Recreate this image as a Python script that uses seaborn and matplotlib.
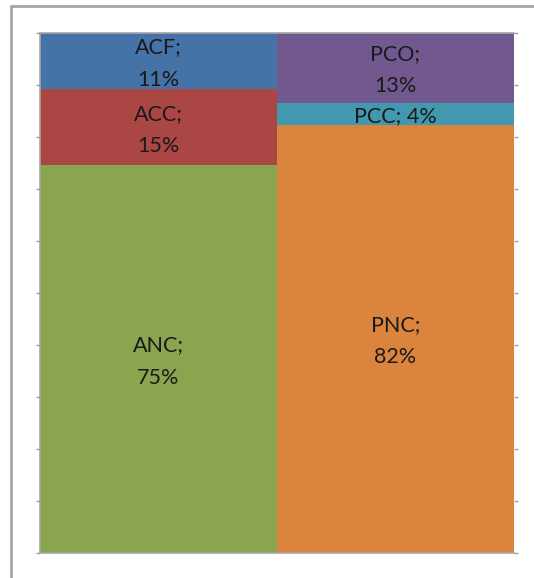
import matplotlib
matplotlib.use("Agg")
import matplotlib.pyplot as plt
import seaborn as sns
import numpy as np
import pandas as pd
from matplotlib.lines import Line2D

# ---- data ----
bars = ["A", "P"]
seg_names_A = ["ANC", "ACC", "ACF"]          # bottom -> top
seg_values_A = [74.6, 14.6, 10.8]
seg_colors_A = ["#89A54E", "#AA4643", "#4572A7"]
seg_names_P = ["PNC", "PCC", "PCO"]          # bottom -> top
seg_values_P = [82.3, 4.2, 13.4]
seg_colors_P = ["#DB843D", "#4198AF", "#71588F"]
single_line_labels = ["PCC"]

sns.set_theme(style="white")
plt.rcParams["font.family"] = ["Lato", "DejaVu Sans"]

fig = plt.figure(figsize=(5.34, 5.78), dpi=100)
ax = fig.add_axes([40 / 534, 1 - 553 / 578, 474 / 534, 520 / 578])


def shares(vals):
    v = np.array(vals, dtype=float)
    return v / v.sum() * 100


shA = shares(seg_values_A)
shP = shares(seg_values_P)
cumA = np.cumsum(shA)
cumP = np.cumsum(shP)

# draw cumulative bars from the top layer down so lower layers overlay
for level in [2, 1, 0]:
    df = pd.DataFrame({"bar": bars, "height": [cumA[level], cumP[level]]})
    sns.barplot(data=df, x="bar", y="height", hue="bar",
                palette=[seg_colors_A[level], seg_colors_P[level]],
                width=1.0, legend=False, ax=ax, saturation=1,
                linewidth=0, edgecolor="none")

# labels
for xi, (names, vals, cum, sh) in enumerate([
        (seg_names_A, seg_values_A, cumA, shA),
        (seg_names_P, seg_values_P, cumP, shP)]):
    for name, val, c, s in zip(names, vals, cum, sh):
        pct = int(round(val))
        if name in single_line_labels:
            txt = f"{name}; {pct}%"
        else:
            txt = f"{name};\n{pct}%"
        ax.annotate(txt, (xi, c - s / 2), xytext=(0, -1.8),
                    textcoords="offset points", ha="center", va="center",
                    fontsize=15.5, color="#1a1a1a", linespacing=1.75)

ax.set_xlim(-0.5, 1.5)
ax.set_ylim(0, 100)
ax.set_yticks(np.arange(0, 101, 10))
ax.set_yticklabels([])
ax.set_xticks([])
ax.set_xlabel("")
ax.set_ylabel("")
ax.tick_params(axis="y", left=True, right=True, length=3, width=1,
               color="#a0a0a0", direction="out")
for side in ["left", "bottom", "top"]:
    ax.spines[side].set_visible(True)
    ax.spines[side].set_color("#a6a6a6")
    ax.spines[side].set_linewidth(1.2)
ax.spines["right"].set_visible(False)
ax.set_axisbelow(False)

# outer chart border (top and left edges visible)
fig.add_artist(Line2D([10.5 / 534, 1.0], [1 - 5.5 / 578, 1 - 5.5 / 578],
                      transform=fig.transFigure, color="#a6a6a6", lw=2))
fig.add_artist(Line2D([10.5 / 534, 10.5 / 534], [0.0, 1 - 5.5 / 578],
                      transform=fig.transFigure, color="#a6a6a6", lw=2))

fig.savefig("out.png", dpi=100)
